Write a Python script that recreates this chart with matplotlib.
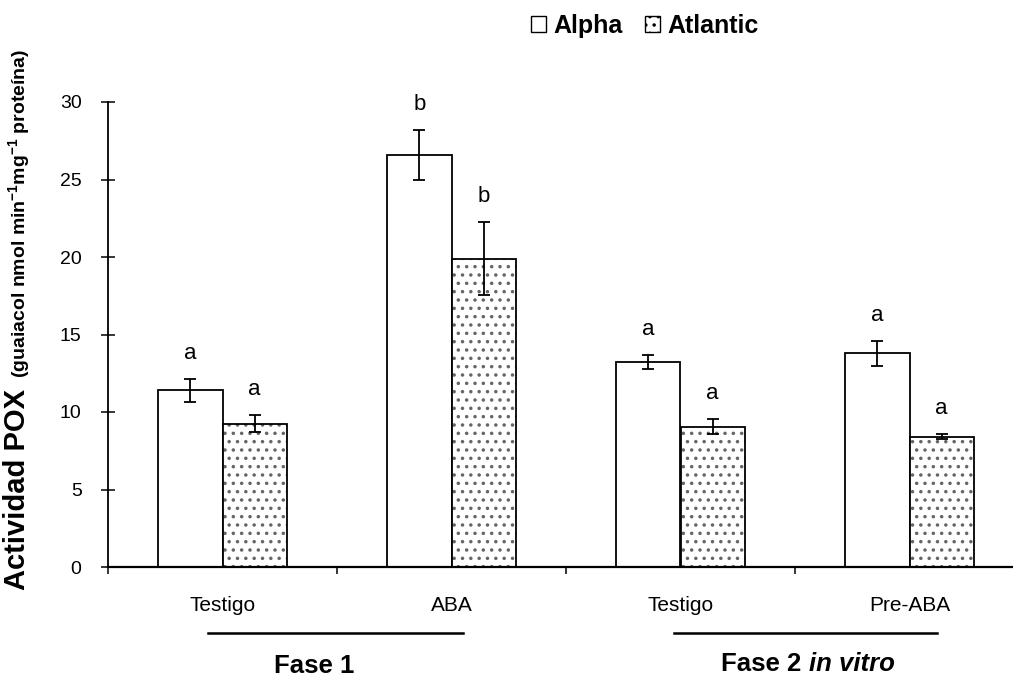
#%% imports

import numpy as np
import matplotlib
matplotlib.use("Agg")
import matplotlib.pyplot as plt
import matplotlib.transforms as mtransforms
from matplotlib.patches import Patch

plt.rcParams['font.family'] = ['Liberation Sans', 'DejaVu Sans']
plt.rcParams['mathtext.fontset'] = 'custom'
plt.rcParams['mathtext.rm'] = 'Liberation Sans:bold'
plt.rcParams['mathtext.bf'] = 'Liberation Sans:bold'
plt.rcParams['mathtext.default'] = 'bf'
plt.rcParams['hatch.linewidth'] = 1.3

#%% data

treatments = ['Testigo', 'ABA', 'Testigo', 'Pre-ABA']
alpha_vals = [11.4, 26.6, 13.2, 13.8]
alpha_err = [0.75, 1.6, 0.45, 0.8]
atlantic_vals = [9.25, 19.9, 9.05, 8.4]
atlantic_err = [0.55, 2.35, 0.5, 0.15]
alpha_letters = ['a', 'b', 'a', 'a']
atlantic_letters = ['a', 'b', 'a', 'a']

#%% figure

fig = plt.figure(figsize=(10.13, 6.79), dpi=100)
ax = fig.add_axes([108 / 1013, 112 / 679, 916 / 1013, 465 / 679])

x = np.arange(len(treatments))
w = 0.28

ax.bar(x - w / 2, alpha_vals, w, color='white', edgecolor='black', linewidth=1.3)
# hatch in grey, outline in black
ax.bar(x + w / 2, atlantic_vals, w, color='white', edgecolor='#666666',
       hatch='..', linewidth=0)
ax.bar(x + w / 2, atlantic_vals, w, fill=False, edgecolor='black', linewidth=1.3)

ax.errorbar(x - w / 2, alpha_vals, yerr=alpha_err, fmt='none', ecolor='black',
            elinewidth=1.3, capsize=4, capthick=1.3)
ax.errorbar(x + w / 2, atlantic_vals, yerr=atlantic_err, fmt='none', ecolor='black',
            elinewidth=1.3, capsize=4, capthick=1.3)

for i in range(len(treatments)):
    ax.text(x[i] - w / 2, alpha_vals[i] + alpha_err[i] + 1.65, alpha_letters[i],
            ha='center', va='center', fontsize=16, clip_on=False)
    ax.text(x[i] + w / 2, atlantic_vals[i] + atlantic_err[i] + 1.65, atlantic_letters[i],
            ha='center', va='center', fontsize=16, clip_on=False)

ax.set_xlim(-0.5, 3.5)
ax.set_ylim(0, 30)
ax.set_yticks(np.arange(0, 31, 5))
ax.set_xticks(np.arange(-0.5, 3.0, 1.0))
ax.set_xticklabels([])
ax.tick_params(axis='y', direction='inout', length=10, width=1.1, labelsize=14, pad=14)
ax.tick_params(axis='x', direction='out', length=5, width=1.1)
tick_tr = mtransforms.blended_transform_factory(ax.transData, ax.transAxes)
for i, t in enumerate(treatments):
    ax.text(x[i], -0.082, t, transform=tick_tr, ha='center', va='center', fontsize=15)

ax.spines['top'].set_visible(False)
ax.spines['right'].set_visible(False)
ax.spines['left'].set_linewidth(1.3)
ax.spines['bottom'].set_linewidth(1.6)

# phase lines and labels
trans = mtransforms.blended_transform_factory(ax.transData, fig.transFigure)
ax.plot([-0.065, 1.05], [1 - 633 / 679] * 2, color='black', lw=1.8, transform=trans, clip_on=False)
ax.plot([1.97, 3.12], [1 - 633 / 679] * 2, color='black', lw=1.8, transform=trans, clip_on=False)
ax.text(0.4, 1 - 666 / 679, 'Fase 1', transform=trans, ha='center', va='center',
        fontsize=18.5, fontweight='bold')
ax.text(2.56, 1 - 664 / 679, 'Fase 2 ', transform=trans, ha='right', va='center',
        fontsize=18.5, fontweight='bold')
ax.text(2.56, 1 - 664 / 679, 'in vitro', transform=trans, ha='left', va='center',
        fontsize=18.5, fontweight='bold', style='italic')

# y label in two sizes, sharing a baseline
fig.text(25 / 1013, 1 - 590 / 679, 'Actividad POX ', rotation=90, rotation_mode='anchor',
         ha='left', va='baseline', fontsize=21, fontweight='bold')
fig.text(25 / 1013, 1 - 378 / 679, '(guaiacol nmol min$^{-1}$mg$^{-1}$ proteína)', rotation=90,
         rotation_mode='anchor', ha='left', va='baseline', fontsize=14, fontweight='bold')

# legend
handles = [Patch(facecolor='white', edgecolor='black', label='Alpha'),
           Patch(facecolor='white', edgecolor='black', hatch='..', label='Atlantic')]
fig.legend(handles=handles, loc='center', bbox_to_anchor=(645 / 1013, 1 - 26 / 679), ncol=2,
           frameon=False, prop={'weight': 'bold', 'size': 18}, handlelength=0.6,
           handleheight=0.6, handletextpad=0.3, columnspacing=0.9)

fig.savefig('out.png', dpi=100)
